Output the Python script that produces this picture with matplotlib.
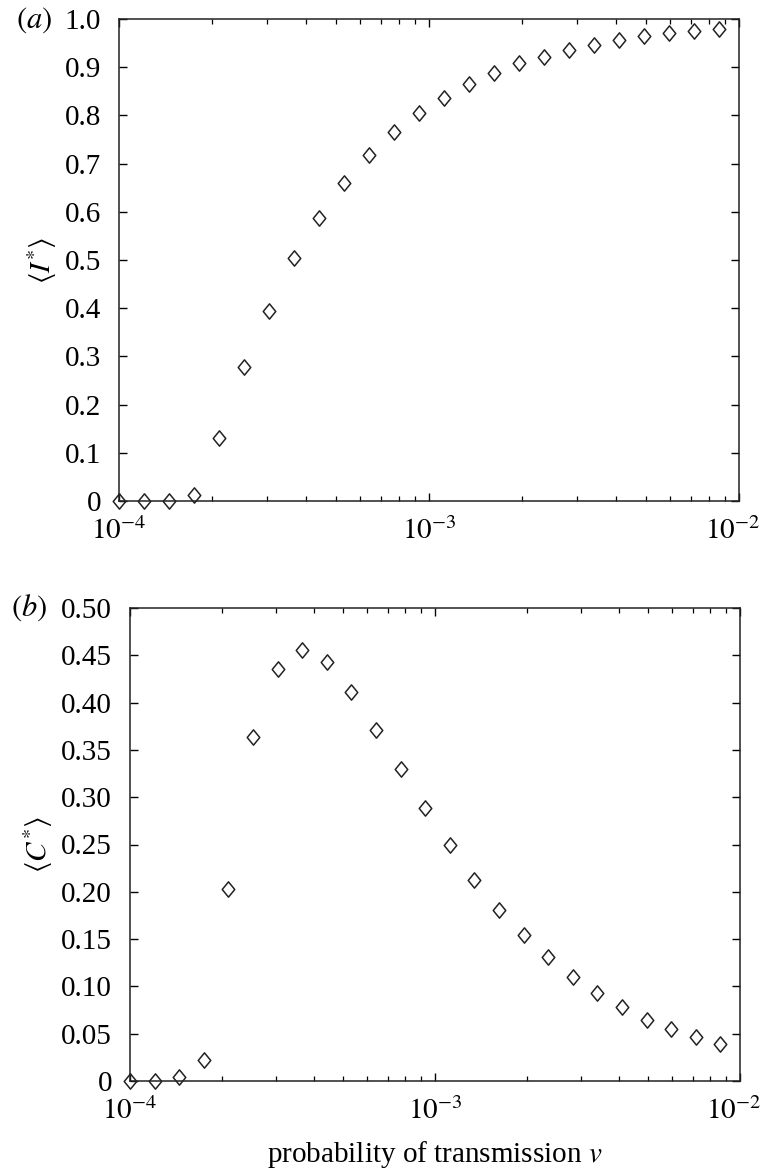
import matplotlib
matplotlib.use("Agg")
import matplotlib.pyplot as plt
import matplotlib.transforms as mtransforms
from matplotlib.path import Path
from matplotlib.ticker import FixedLocator, FixedFormatter, LogLocator, NullFormatter

plt.rcParams['font.family'] = ['Liberation Serif', 'DejaVu Serif']
plt.rcParams['mathtext.fontset'] = 'stix'

# transmission probabilities (log-spaced sample points)
nu = [1.0e-4, 1.204e-4, 1.45e-4, 1.746e-4, 2.10e-4, 2.53e-4, 3.05e-4, 3.67e-4,
      4.42e-4, 5.32e-4, 6.41e-4, 7.72e-4, 9.29e-4, 1.119e-3, 1.347e-3, 1.622e-3,
      1.953e-3, 2.352e-3, 2.83e-3, 3.41e-3, 4.10e-3, 4.94e-3, 5.95e-3, 7.17e-3, 8.63e-3]

I_star = [0.0, 0.0, 0.0, 0.012, 0.130, 0.277, 0.395, 0.504, 0.588, 0.660, 0.718,
          0.765, 0.804, 0.837, 0.866, 0.889, 0.908, 0.922, 0.936, 0.947, 0.956,
          0.964, 0.970, 0.975, 0.979]

C_star = [0.0, 0.0, 0.004, 0.022, 0.203, 0.364, 0.435, 0.456, 0.443, 0.411, 0.371,
          0.330, 0.289, 0.250, 0.213, 0.181, 0.154, 0.131, 0.110, 0.093, 0.078,
          0.065, 0.055, 0.046, 0.039]

yticks_a = [0, 0.1, 0.2, 0.3, 0.4, 0.5, 0.6, 0.7, 0.8, 0.9, 1.0]
yticklabels_a = ['0', '0.1', '0.2', '0.3', '0.4', '0.5', '0.6', '0.7', '0.8', '0.9', '1.0']
yticks_b = [0, 0.05, 0.10, 0.15, 0.20, 0.25, 0.30, 0.35, 0.40, 0.45, 0.50]
yticklabels_b = ['0', '0.05', '0.10', '0.15', '0.20', '0.25', '0.30', '0.35', '0.40', '0.45', '0.50']
xticks = [1e-4, 1e-3, 1e-2]
xticklabels = [r'$10^{-4}$', r'$10^{-3}$', r'$10^{-2}$']

W, H = 765, 1170
fig = plt.figure(figsize=(W / 100, H / 100), dpi=100)

diamond = Path([(0, 1), (0.82, 0), (0, -1), (-0.82, 0), (0, 1)],
               [Path.MOVETO, Path.LINETO, Path.LINETO, Path.LINETO, Path.CLOSEPOLY])

FS = 21

def setup(ax, yticks, ylabels, ylim):
    ax.set_xscale('log')
    ax.set_xlim(1e-4, 1e-2)
    ax.set_ylim(*ylim)
    ax.xaxis.set_major_locator(FixedLocator(xticks))
    ax.xaxis.set_major_formatter(FixedFormatter(xticklabels))
    ax.xaxis.set_minor_locator(LogLocator(base=10, subs=range(2, 10)))
    ax.xaxis.set_minor_formatter(NullFormatter())
    ax.yaxis.set_major_locator(FixedLocator(yticks))
    ax.yaxis.set_major_formatter(FixedFormatter(ylabels))
    ax.tick_params(which='major', direction='in', length=6, width=1.0,
                   top=True, right=True, labelsize=FS)
    ax.tick_params(axis='y', which='major', pad=13)
    ax.tick_params(axis='x', which='major', pad=12)
    ax.tick_params(which='minor', direction='in', length=3.5, width=0.9,
                   top=True, right=False, left=False)
    for s in ax.spines.values():
        s.set_linewidth(1.1)
        s.set_color('#222222')

def nudge_last_xlabel(ax):
    lbl = ax.get_xticklabels()[-1]
    off = mtransforms.ScaledTranslation(-6 / 100, 0, fig.dpi_scale_trans)
    lbl.set_transform(lbl.get_transform() + off)

ax1 = fig.add_axes([119 / W, 1 - 501 / H, 620 / W, 482 / H])
ax1.plot(nu, I_star, linestyle='none', marker=diamond, markersize=11,
         markerfacecolor='none', markeredgecolor='#222222', markeredgewidth=1.1,
         clip_on=False)
setup(ax1, yticks_a, yticklabels_a, (0, 1.0))
ax1.set_ylabel(r'$\langle I^{*}\rangle$', fontsize=FS, labelpad=4)
fig.text(16 / W, 1 - 20 / H, r'$(a)$', fontsize=FS + 1, va='center', ha='left')

ax2 = fig.add_axes([130 / W, 1 - 1081 / H, 610 / W, 473 / H])
ax2.plot(nu, C_star, linestyle='none', marker=diamond, markersize=11,
         markerfacecolor='none', markeredgecolor='#222222', markeredgewidth=1.1,
         clip_on=False)
setup(ax2, yticks_b, yticklabels_b, (0, 0.5))
ax2.set_ylabel(r'$\langle C^{*}\rangle$', fontsize=FS, labelpad=4)
ax2.set_xlabel(r'probability of transmission $v$', fontsize=FS, labelpad=10)
fig.text(11 / W, 1 - 608 / H, r'$(b)$', fontsize=FS + 1, va='center', ha='left')

fig.canvas.draw()
nudge_last_xlabel(ax1)
nudge_last_xlabel(ax2)

fig.savefig('out.png', dpi=100)
